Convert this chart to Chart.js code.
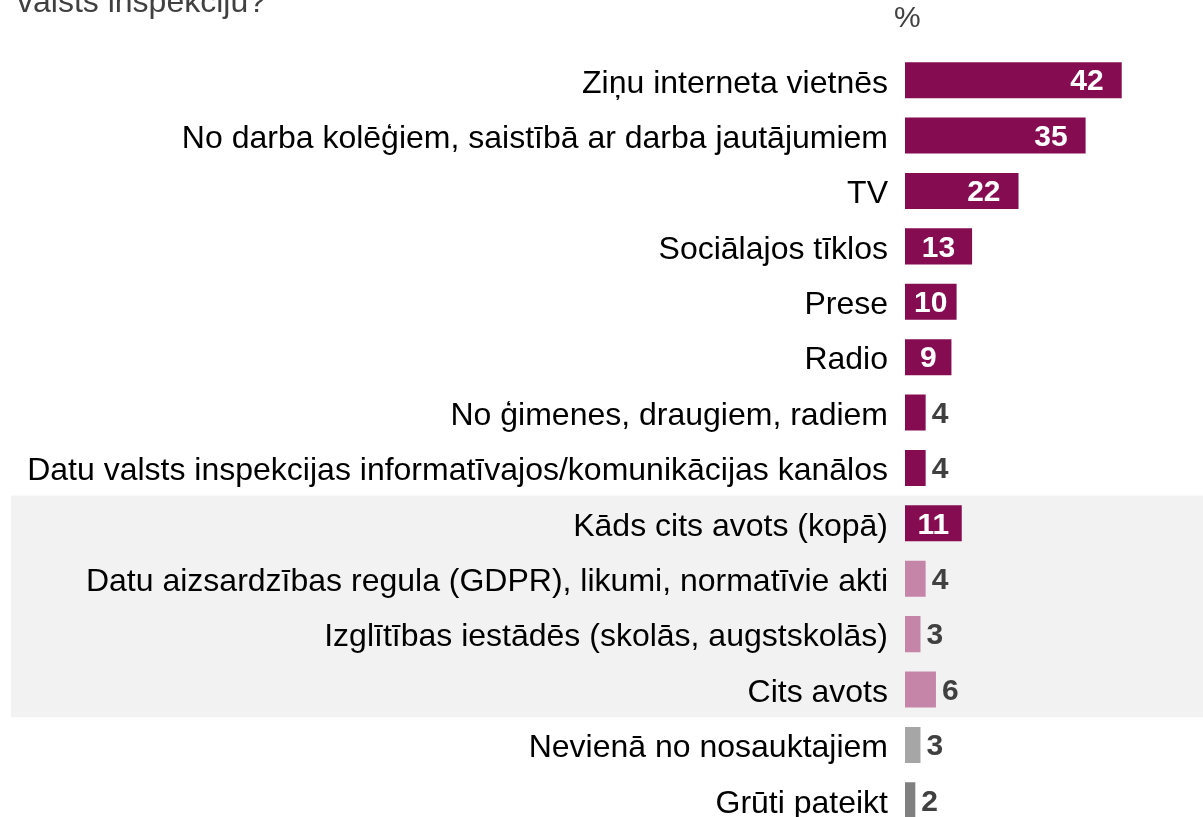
<!DOCTYPE html>
<html>
<head>
<meta charset="utf-8">
<script src="https://cdn.jsdelivr.net/npm/chart.js@4/dist/chart.umd.min.js"></script>
<style>
    html, body { margin: 0; padding: 0; background: #fff; overflow: hidden; }
    #wrap { width: 1203px; height: 828px; }
</style>
</head>
<body>
<div id="wrap"><canvas id="bar_chart" width="1203" height="828"></canvas></div>
<script>
    // dati
    var categories = [
        "Ziņu interneta vietnēs",
        "No darba kolēģiem, saistībā ar darba jautājumiem",
        "TV",
        "Sociālajos tīklos",
        "Prese",
        "Radio",
        "No ģimenes, draugiem, radiem",
        "Datu valsts inspekcijas informatīvajos/komunikācijas kanālos",
        "Kāds cits avots (kopā)",
        "Datu aizsardzības regula (GDPR), likumi, normatīvie akti",
        "Izglītības iestādēs (skolās, augstskolās)",
        "Cits avots",
        "Nevienā no nosauktajiem",
        "Grūti pateikt"
    ];
    var values = [42, 35, 22, 13, 10, 9, 4, 4, 11, 4, 3, 6, 3, 2];
    var groups = ["source", "source", "source", "source", "source", "source", "source", "source",
        "total", "other", "other", "other", "none", "hard"];

    var titleText = "valsts inspekciju?";
    var unitText = "%";

    var groupColors = {
        source: "#860C52",
        total: "#860C52",
        other: "#C585A8",
        none: "#A6A6A6",
        hard: "#808080"
    };
    var barColors = groups.map(function (g) { return groupColors[g]; });

    // pelēkais fons "cits avots" grupai
    var bandPlugin = {
        id: 'band',
        beforeDraw: function (chart) {
            var ctx = chart.ctx;
            var y = chart.scales.y;
            var first = -1, last = -1;
            for (var i = 0; i < groups.length; i++) {
                if (groups[i] == "total" || groups[i] == "other") {
                    if (first < 0) first = i;
                    last = i;
                }
            }
            var half = (y.getPixelForValue(1) - y.getPixelForValue(0)) / 2;
            var top = y.getPixelForValue(first) - half;
            var bottom = y.getPixelForValue(last) + half;
            ctx.save();
            ctx.fillStyle = "#F2F2F2";
            ctx.fillRect(11, top, chart.width - 11, bottom - top);
            ctx.restore();
        },
        afterDraw: function (chart) {
            var ctx = chart.ctx;
            ctx.save();
            ctx.fillStyle = "#404040";
            ctx.font = "32px 'Liberation Sans', Arial, sans-serif";
            ctx.textBaseline = "alphabetic";
            ctx.textAlign = "left";
            ctx.fillText(titleText, 17, 12);
            ctx.font = "30px 'Liberation Sans', Arial, sans-serif";
            ctx.fillText(unitText, 894, 27);
            ctx.restore();
        }
    };

    // vērtību uzraksti
    var labelPlugin = {
        id: 'valueLabels',
        afterDatasetsDraw: function (chart) {
            var ctx = chart.ctx;
            var meta = chart.getDatasetMeta(0);
            ctx.save();
            ctx.font = "bold 30px 'Liberation Sans', Arial, sans-serif";
            ctx.textBaseline = "middle";
            meta.data.forEach(function (bar, i) {
                var txt = String(values[i]);
                var w = ctx.measureText(txt).width;
                if (values[i] >= 8) {
                    var center = (bar.base + bar.x) / 2;
                    var x = Math.max(center, bar.x - 18 - w / 2);
                    ctx.fillStyle = "#ffffff";
                    ctx.textAlign = "center";
                    ctx.fillText(txt, x, bar.y + 2);
                } else {
                    ctx.fillStyle = "#404040";
                    ctx.textAlign = "left";
                    ctx.fillText(txt, bar.x + 6, bar.y + 2);
                }
            });
            ctx.restore();
        }
    };

    new Chart(document.getElementById("bar_chart").getContext("2d"), {
        type: 'bar',
        data: {
            labels: categories,
            datasets: [{
                data: values,
                backgroundColor: barColors,
                borderWidth: 0,
                barPercentage: 0.65,
                categoryPercentage: 1
            }]
        },
        options: {
            indexAxis: 'y',
            responsive: false,
            animation: false,
            layout: {
                padding: {top: 52.5, right: 40, bottom: 0, left: 0}
            },
            plugins: {
                legend: {display: false},
                tooltip: {enabled: false}
            },
            scales: {
                x: {
                    display: false,
                    min: 0,
                    max: 50
                },
                y: {
                    grid: {display: false, drawTicks: false},
                    border: {display: false},
                    ticks: {
                        color: "#000000",
                        padding: 17,
                        autoSkip: false,
                        // tukša pirmā rinda nobīda tekstu mazliet uz leju
                        callback: function (value) {
                            return ["", this.getLabelForValue(value)];
                        },
                        font: {family: "'Liberation Sans', Arial, sans-serif", size: 32, lineHeight: "7px"}
                    },
                    afterFit: function (scale) {
                        scale.width = 905;
                        scale.paddingTop = 0;
                        scale.paddingBottom = 0;
                    }
                }
            }
        },
        plugins: [bandPlugin, labelPlugin]
    });
</script>
</body>
</html>
